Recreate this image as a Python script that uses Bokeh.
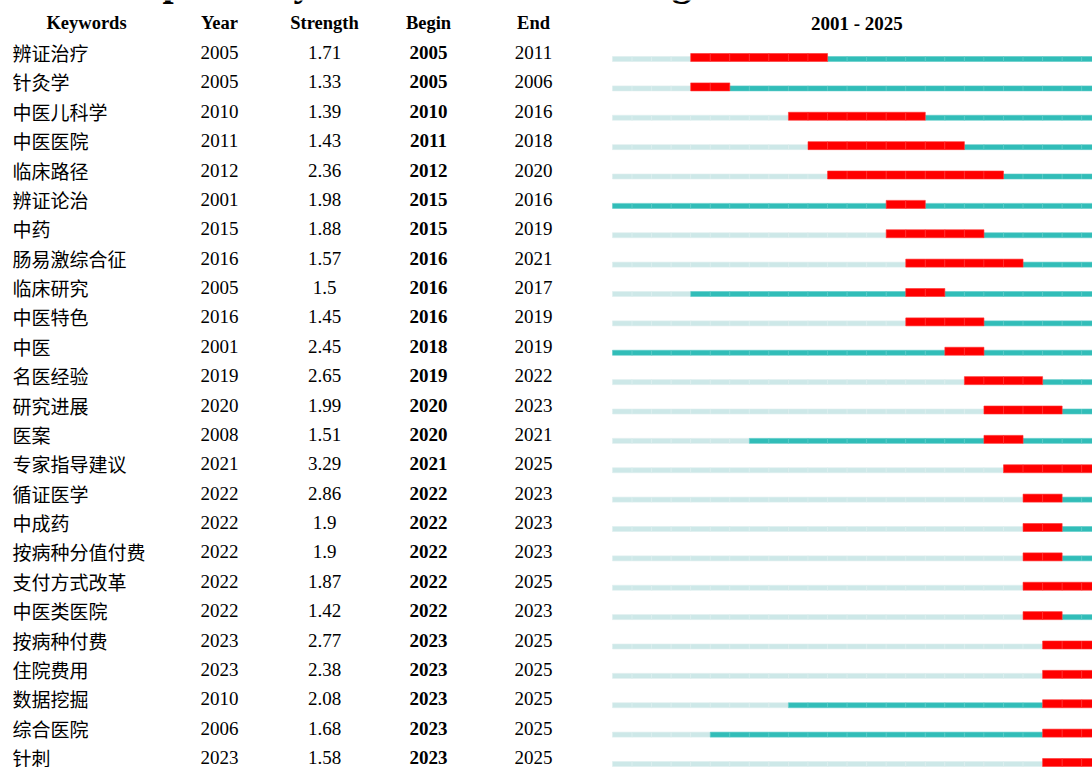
from bokeh.plotting import figure
from bokeh.models import Range1d, ColumnDataSource
from bokeh.core.properties import value
from bokeh.embed import file_html
from bokeh.resources import INLINE

# ---------------- data ----------------
title = "Top 25 Keywords with the Strongest Citation Bursts"
keywords = ["辨证治疗", "针灸学", "中医儿科学", "中医医院", "临床路径", "辨证论治", "中药",
            "肠易激综合征", "临床研究", "中医特色", "中医", "名医经验", "研究进展", "医案",
            "专家指导建议", "循证医学", "中成药", "按病种分值付费", "支付方式改革", "中医类医院",
            "按病种付费", "住院费用", "数据挖掘", "综合医院", "针刺"]
first_year = [2005, 2005, 2010, 2011, 2012, 2001, 2015, 2016, 2005, 2016, 2001, 2019, 2020,
              2008, 2021, 2022, 2022, 2022, 2022, 2022, 2023, 2023, 2010, 2006, 2023]
strength = ["1.71", "1.33", "1.39", "1.43", "2.36", "1.98", "1.88", "1.57", "1.5", "1.45",
            "2.45", "2.65", "1.99", "1.51", "3.29", "2.86", "1.9", "1.9", "1.87", "1.42",
            "2.77", "2.38", "2.08", "1.68", "1.58"]
burst_begin = [2005, 2005, 2010, 2011, 2012, 2015, 2015, 2016, 2016, 2016, 2018, 2019, 2020,
               2020, 2021, 2022, 2022, 2022, 2022, 2022, 2023, 2023, 2023, 2023, 2023]
burst_end = [2011, 2006, 2016, 2018, 2020, 2016, 2019, 2021, 2017, 2019, 2019, 2022, 2023,
             2021, 2025, 2023, 2023, 2023, 2025, 2023, 2025, 2025, 2025, 2025, 2025]
year_start, year_end = 2001, 2025
headers = ["Keywords", "Year", "Strength", "Begin", "End"]

# ---------------- layout ----------------
W, H = 1092, 767
PX_PER_YEAR = 19.55
YEAR0_PX = 612          # px where the first year begins
ROW0_PX = 52            # px of first row centre
ROW_PX = 29.375         # row pitch

x0 = year_start - YEAR0_PX / PX_PER_YEAR
x1 = x0 + W / PX_PER_YEAR
y_top = -ROW0_PX / ROW_PX
y_bot = y_top + H / ROW_PX


def px_x(px):
    return x0 + px / PX_PER_YEAR


def px_y(px):
    return px / ROW_PX


p = figure(width=W, height=H, x_range=Range1d(x0, x1), y_range=Range1d(y_bot, y_top),
           output_backend="svg", toolbar_location=None, min_border=0)
p.axis.visible = False
p.xgrid.visible = False
p.ygrid.visible = False
p.outline_line_color = None
p.background_fill_color = "white"
p.border_fill_color = "white"

LIGHT = "#CDE8E8"
TEAL = "#31BDB8"
RED = "#FF0000"

# ---------------- bars ----------------
thin = dict(left=[], right=[], top=[], bottom=[], color=[], line=[])
reds = dict(left=[], right=[], top=[], bottom=[])
for i in range(len(keywords)):
    for yr in range(year_start, year_end + 1):
        if burst_begin[i] <= yr <= burst_end[i]:
            reds["left"].append(yr)
            reds["right"].append(yr + 1)
            reds["bottom"].append(i + px_y(9))
            reds["top"].append(i + px_y(1))
        else:
            thin["left"].append(yr)
            thin["right"].append(yr + 1)
            thin["bottom"].append(i + px_y(9))
            thin["top"].append(i + px_y(4))
            if yr < first_year[i]:
                thin["color"].append(LIGHT)
                thin["line"].append("#DDEFEF")
            else:
                thin["color"].append(TEAL)
                thin["line"].append("#5CCBC7")

p.quad(left="left", right="right", top="top", bottom="bottom", fill_color="color",
       line_color="line", line_width=0.6, source=ColumnDataSource(thin))
p.quad(left="left", right="right", top="top", bottom="bottom", fill_color=RED,
       line_color="#FF3030", line_width=0.6, source=ColumnDataSource(reds))

# ---------------- table text ----------------
rows = list(range(len(keywords)))
serif = value("Liberation Serif")
cjk = value("Noto Sans CJK SC")

# title (mostly above the visible area, only descenders show)
p.text(x=[px_x(119)], y=[y_top - px_y(19)], text=[title], text_font=serif,
       text_font_size="40px", text_font_style="bold", text_baseline="alphabetic",
       text_align="left", text_color="black")

p.text(x=[px_x(12)] * len(rows), y=rows, text=keywords, text_font=cjk,
       text_font_size="19px", text_baseline="middle", text_align="left", text_color="black")

col_px = [86, 219, 324, 428, 533]
cols = [None, [str(v) for v in first_year], strength,
        [str(v) for v in burst_begin], [str(v) for v in burst_end]]
for c in range(1, 5):
    p.text(x=[px_x(col_px[c])] * len(rows), y=rows, text=cols[c], text_font=serif,
           text_font_size="19px", text_baseline="middle", text_align="center",
           text_color="black", text_font_style="bold" if c == 3 else "normal")

p.text(x=[px_x(c) for c in col_px], y=[-1] * 5, text=headers, text_font=serif,
       text_font_size="18.5px", text_font_style="bold", text_baseline="middle",
       text_align="center", text_color="black")
p.text(x=[year_start + (year_end - year_start + 1) / 2], y=[-1],
       text=[f"{year_start} - {year_end}"], text_font=serif, text_font_size="19px",
       text_font_style="bold", text_baseline="middle", text_align="center", text_color="black")

open("out.html", "w").write(file_html(p, INLINE))
